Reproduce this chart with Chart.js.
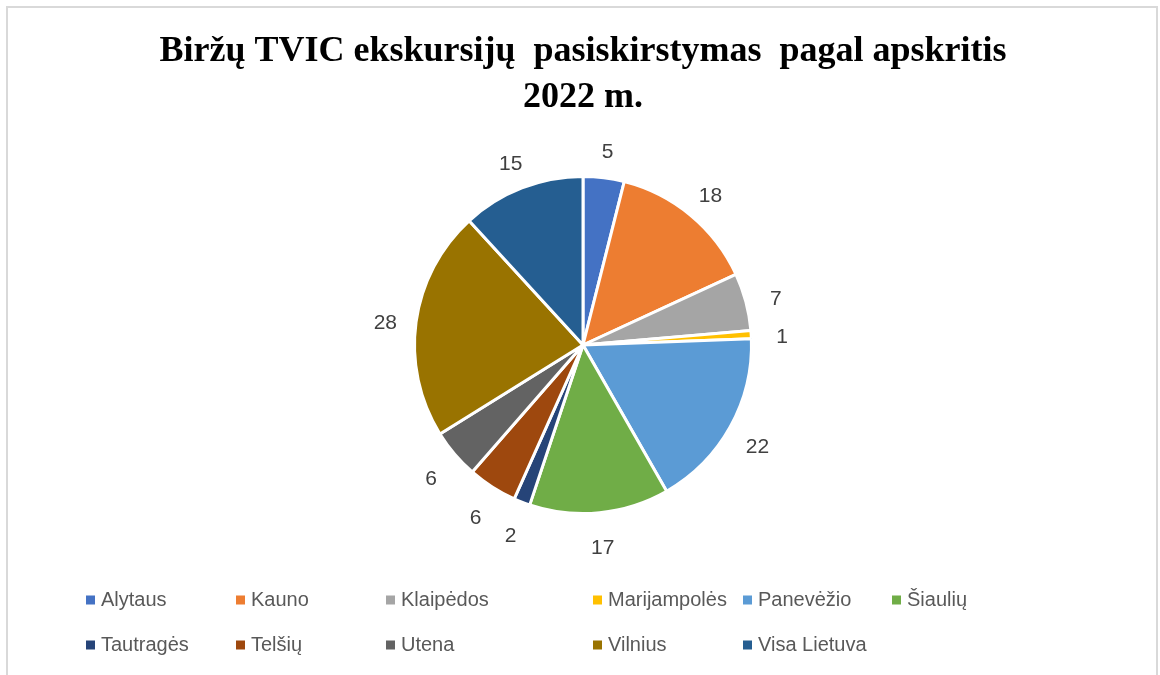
<!DOCTYPE html>
<html>
<head>
<meta charset="utf-8">
<script src="https://cdn.jsdelivr.net/npm/chart.js@4.4.0/dist/chart.umd.min.js"></script>
<style>
  html, body { margin: 0; padding: 0; background: #fff; }
  #wrap { position: relative; width: 1160px; height: 675px; }
</style>
</head>
<body>
<div id="wrap"><canvas id="chartPie" width="1160" height="675"></canvas></div>
<script>
// duomenys
var apskritys = ['Alytaus', 'Kauno', 'Klaipėdos', 'Marijampolės', 'Panevėžio', 'Šiaulių',
    'Tautragės', 'Telšių', 'Utena', 'Vilnius', 'Visa Lietuva'];
var ekskursijos = [5, 18, 7, 1, 22, 17, 2, 6, 6, 28, 15];
var spalvos = ['#4472C4', '#ED7D31', '#A5A5A5', '#FFC000', '#5B9BD5', '#70AD47',
    '#264478', '#9E480E', '#636363', '#997300', '#255E91'];
var pavadinimas = ['Biržų TVIC ekskursijų  pasiskirstymas  pagal apskritis', '2022 m.'];

// legend column x positions (Excel style grid), rows y
var legCols = [86, 236, 386, 593, 743, 892];
var legRows = [600, 645];

var framePlugin = {
    id: 'frame',
    beforeDraw: function (chart) {
        var ctx = chart.ctx;
        ctx.save();
        ctx.strokeStyle = '#d9d9d9';
        ctx.lineWidth = 2;
        ctx.strokeRect(7, 7, 1150, 700);
        // title
        ctx.fillStyle = '#000';
        ctx.font = 'bold 36px "Liberation Serif", "Times New Roman", serif';
        ctx.textAlign = 'center';
        ctx.textBaseline = 'alphabetic';
        ctx.fillText(pavadinimas[0], 583, 61);
        ctx.fillText(pavadinimas[1], 583, 107);
        ctx.restore();
    },
    afterDraw: function (chart) {
        var ctx = chart.ctx;
        var meta = chart.getDatasetMeta(0);
        ctx.save();
        // data labels outside slices
        ctx.fillStyle = '#404040';
        ctx.font = '21px "Liberation Sans", Arial, sans-serif';
        ctx.textAlign = 'center';
        ctx.textBaseline = 'middle';
        meta.data.forEach(function (arc, i) {
            var p = arc.getProps(['x', 'y', 'startAngle', 'endAngle', 'outerRadius'], true);
            var mid = (p.startAngle + p.endAngle) / 2;
            var r = p.outerRadius + 31;
            ctx.fillText(String(ekskursijos[i]), p.x + Math.cos(mid) * r, p.y + Math.sin(mid) * r + 5);
        });
        // legend
        ctx.font = '20px "Liberation Sans", Arial, sans-serif';
        ctx.textAlign = 'left';
        for (var i = 0; i < apskritys.length; i++) {
            var x = legCols[i % 6], y = legRows[Math.floor(i / 6)];
            ctx.fillStyle = spalvos[i];
            ctx.fillRect(x, y - 4.5, 9, 9);
            ctx.fillStyle = '#595959';
            ctx.fillText(apskritys[i], x + 15, y);
        }
        ctx.restore();
    }
};

var ctx = document.getElementById('chartPie');
var pie = new Chart(ctx, {
    type: 'pie',
    data: {
        labels: apskritys,
        datasets: [{
            data: ekskursijos,
            backgroundColor: spalvos,
            borderColor: '#ffffff',
            borderWidth: 3
        }]
    },
    options: {
        responsive: false,
        animation: false,
        layout: {
            padding: { left: 413, right: 407, top: 175, bottom: 160 }
        },
        plugins: {
            legend: { display: false },
            title: { display: false },
            tooltip: { enabled: false }
        }
    },
    plugins: [framePlugin]
});
</script>
</body>
</html>
